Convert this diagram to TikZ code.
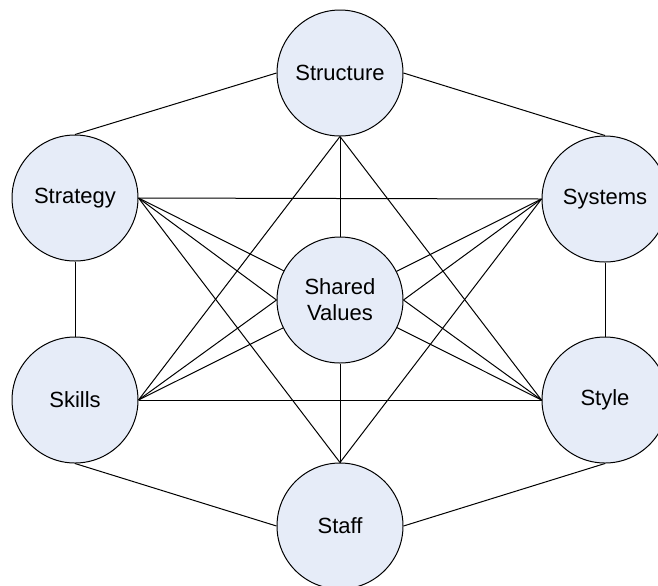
\documentclass[tikz,border=0pt]{standalone}
\usepackage{fontspec}
\setmainfont{Liberation Sans}
\usepackage{xcolor}
\usepackage{tikz}
\usetikzlibrary{backgrounds}
\definecolor{paleblue}{RGB}{230,236,248}
\tikzset{
    tnode/.style = {align=center, inner sep=0pt, text centered},
    snode/.style = {tnode, circle, draw=black, fill=paleblue, minimum size=63pt, line width=0.5pt, font=\fontsize{11}{13}\selectfont},
    link/.style = {line width=0.5pt}
}
\begin{document}
\begin{tikzpicture}[-, x=0.5pt, y=-0.5pt]
    \useasboundingbox (0,0) rectangle (658,585);

    \node [snode] (structure) at (340,73) {Structure};
    \node [snode] (strategy) at (75,198) {Strategy};
    \node [snode] (systems) at (605,199) {Systems};
    \node [snode] (shared) at (340,300) {Shared\\Values};
    \node [snode] (skills) at (75,400) {Skills};
    \node [snode] (style) at (605,400) {Style};
    \node [snode] (staff) at (340,526) {Staff};

    \begin{pgfonlayer}{background}
    % outer ring
    \draw [link] (structure.west) -- (strategy.north);
    \draw [link] (structure.east) -- (systems.north);
    \draw [link] (strategy.south) -- (skills.north);
    \draw [link] (systems.south) -- (style.north);
    \draw [link] (skills.south) -- (staff.west);
    \draw [link] (style.south) -- (staff.east);

    % cross links
    \draw [link] (strategy.east) -- (systems.west);
    \draw [link] (strategy.east) -- (shared.west);
    \draw [link] (strategy.east) -- (staff.north);
    \draw [link] (strategy.east) -- (style.west);
    \draw [link] (skills.east) -- (style.west);
    \draw [link] (skills.east) -- (shared.west);
    \draw [link] (skills.east) -- (structure.south);
    \draw [link] (skills.east) -- (systems.west);
    \draw [link] (systems.west) -- (shared.east);
    \draw [link] (systems.west) -- (staff.north);
    \draw [link] (style.west) -- (shared.east);
    \draw [link] (style.west) -- (structure.south);
    \draw [link] (structure.south) -- (shared.north);
    \draw [link] (staff.north) -- (shared.south);
    \end{pgfonlayer}
\end{tikzpicture}
\end{document}
